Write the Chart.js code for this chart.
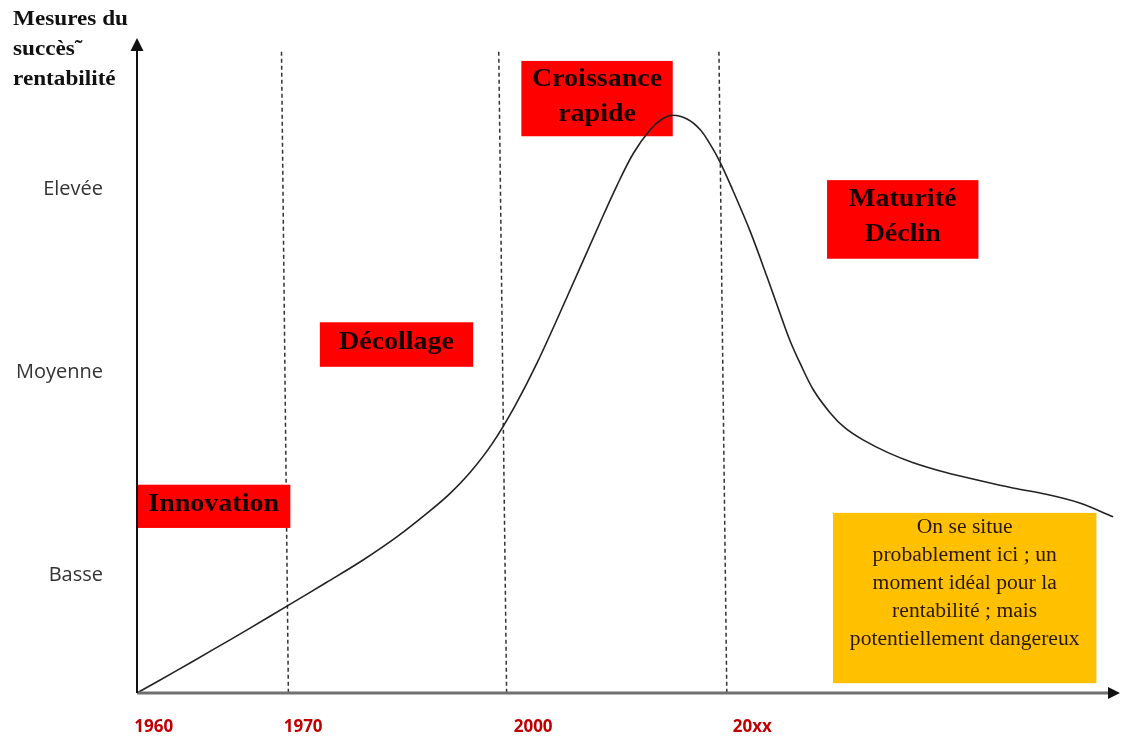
<!DOCTYPE html>
<html>
<head>
<meta charset="utf-8">
<script src="https://cdn.jsdelivr.net/npm/chart.js@4.4.1/dist/chart.umd.min.js"></script>
<style>
  html, body { margin: 0; padding: 0; background: #fff; }
  #wrap { width: 1121px; height: 738px; position: relative; }
</style>
</head>
<body>
<div id="wrap"><canvas id="cycleChart"></canvas></div>
<script>
// Courbe du cycle de vie (unités arbitraires 0-100 sur les deux axes)
const curveX = [0, 3.9, 7.6, 11.5, 15.3, 19.3, 23.0, 26.5, 29.8, 31.8, 33.9, 36.1, 38.4, 40.7, 43.7,
  47.1, 48.8, 50.5, 52.2, 53.4, 54.5, 56.0, 57.3, 58.3, 59.3, 60.6, 62.4, 64.1, 65.4, 66.4, 67.5,
  68.8, 70.5, 72.0, 73.9, 76.4, 78.9, 82.2, 85.8, 89.1, 92.6, 95.9, 99.3];
const curveY = [0, 3.3, 6.5, 9.9, 13.3, 16.9, 20.3, 23.9, 27.8, 30.4, 33.7, 38.0, 43.7, 50.4, 60.3,
  71.8, 77.4, 82.4, 86.0, 87.6, 88.2, 87.6, 86.0, 83.8, 81.1, 76.8, 70.4, 63.5, 58.0, 53.9, 50.2,
  46.3, 42.8, 40.5, 38.6, 36.7, 35.2, 33.7, 32.4, 31.3, 30.3, 29.0, 26.9];

// Séparations des phases (haut / bas)
const phaseTopX = [14.7, 36.8, 59.2];
const phaseBottomX = [15.4, 37.6, 60.0];
const phaseTopY = 97.9;

// Axes
const xTickPos = [1.7, 16.9, 40.3, 62.6];
const xTickLabels = ['1960', '1970', '2000', '20xx'];
const yTickPos = [76.9, 48.9, 18.0];
const yTickLabels = ['Elevée', 'Moyenne', 'Basse'];

const titleLines = ['Mesures du', 'succès˜', 'rentabilité'];

// Étiquettes des phases (coordonnées dans les unités des axes)
const phaseBoxes = [
  { x0: 0, x1: 15.6, y0: 25.2, y1: 31.8, lines: ['Innovation'] },
  { x0: 18.6, x1: 34.2, y0: 49.8, y1: 56.6, lines: ['Décollage'] },
  { x0: 39.1, x1: 54.5, y0: 85.0, y1: 96.5, lines: ['Croissance', 'rapide'] },
  { x0: 70.2, x1: 85.6, y0: 66.3, y1: 78.3, lines: ['Maturité', 'Déclin'] }
];
const noteBox = {
  x0: 70.8, x1: 97.6, y0: 1.5, y1: 27.5,
  lines: ['On se situe', 'probablement ici ; un', 'moment idéal pour la', 'rentabilité ; mais', 'potentiellement dangereux']
};

function stretchText(ctx, text, x, y, sx) {
  ctx.save();
  ctx.translate(x, y);
  ctx.scale(sx, 1);
  ctx.fillText(text, 0, 0);
  ctx.restore();
}

const boxesPlugin = {
  id: 'boxes',
  beforeDatasetDraw(chart, args) {
    if (args.index !== 0) return;
    const ctx = chart.ctx;
    const xs = chart.scales.x, ys = chart.scales.y;
    ctx.save();
    phaseBoxes.forEach(b => {
      const l = xs.getPixelForValue(b.x0), r = xs.getPixelForValue(b.x1);
      const t = ys.getPixelForValue(b.y1), bt = ys.getPixelForValue(b.y0);
      ctx.fillStyle = '#ff0000';
      ctx.fillRect(l, t, r - l, bt - t);
      ctx.fillStyle = '#1a0000';
      ctx.font = 'bold 25px "Liberation Serif"';
      ctx.textAlign = 'center';
      ctx.textBaseline = 'middle';
      const cy = (t + bt) / 2 - 2;
      const step = 35;
      b.lines.forEach((s, i) => {
        stretchText(ctx, s, (l + r) / 2, cy + (i - (b.lines.length - 1) / 2) * step, 1.12);
      });
    });
    // note orange
    const l = xs.getPixelForValue(noteBox.x0), r = xs.getPixelForValue(noteBox.x1);
    const t = ys.getPixelForValue(noteBox.y1), bt = ys.getPixelForValue(noteBox.y0);
    ctx.fillStyle = '#ffc000';
    ctx.fillRect(l, t, r - l, bt - t);
    ctx.fillStyle = '#2b1800';
    ctx.font = '20px "Liberation Serif"';
    ctx.textAlign = 'center';
    ctx.textBaseline = 'middle';
    noteBox.lines.forEach((s, i) => {
      stretchText(ctx, s, (l + r) / 2, t + 15 + i * 28, 1.08);
    });
    ctx.restore();
  },
  afterDraw(chart) {
    const ctx = chart.ctx;
    const a = chart.chartArea;
    ctx.save();
    // axe x
    ctx.strokeStyle = '#707070';
    ctx.lineWidth = 3;
    ctx.beginPath();
    ctx.moveTo(a.left, a.bottom);
    ctx.lineTo(a.right - 10, a.bottom);
    ctx.stroke();
    ctx.fillStyle = '#111';
    ctx.beginPath();
    ctx.moveTo(a.right, a.bottom);
    ctx.lineTo(a.right - 12, a.bottom - 6);
    ctx.lineTo(a.right - 12, a.bottom + 6);
    ctx.closePath();
    ctx.fill();
    // axe y
    ctx.strokeStyle = '#111';
    ctx.lineWidth = 2;
    ctx.beginPath();
    ctx.moveTo(a.left, a.bottom);
    ctx.lineTo(a.left, a.top + 10);
    ctx.stroke();
    ctx.beginPath();
    ctx.moveTo(a.left, a.top);
    ctx.lineTo(a.left - 6.5, a.top + 13);
    ctx.lineTo(a.left + 6.5, a.top + 13);
    ctx.closePath();
    ctx.fill();
    // titre de l'axe y
    ctx.fillStyle = '#111';
    ctx.font = 'bold 20px "Liberation Serif"';
    ctx.textAlign = 'left';
    ctx.textBaseline = 'middle';
    titleLines.forEach((s, i) => stretchText(ctx, s, 13, 20 + i * 30, 1.16));
    ctx.restore();
  }
};

const datasets = [{
  data: curveX.map((x, i) => ({ x: x, y: curveY[i] })),
  borderColor: '#222',
  borderWidth: 1.6,
  pointRadius: 0,
  tension: 0.35,
  order: 1
}];
phaseTopX.forEach((x, i) => {
  datasets.push({
    data: [{ x: x, y: phaseTopY }, { x: phaseBottomX[i], y: 0 }],
    borderColor: '#333',
    borderWidth: 1.5,
    borderDash: [4, 3],
    pointRadius: 0,
    tension: 0,
    order: 2
  });
});

new Chart(document.getElementById('cycleChart'), {
  type: 'line',
  data: { datasets: datasets },
  plugins: [boxesPlugin],
  options: {
    responsive: true,
    maintainAspectRatio: false,
    animation: false,
    layout: { padding: { top: 38, right: 1, left: 0, bottom: 0 } },
    plugins: { legend: { display: false }, tooltip: { enabled: false } },
    scales: {
      x: {
        type: 'linear',
        min: 0, max: 100,
        grid: { display: false },
        border: { display: false },
        afterFit(scale) {
          scale.height = 45;
          scale.paddingLeft = 0;
          scale.paddingRight = 0;
        },
        afterBuildTicks(scale) { scale.ticks = xTickPos.map(v => ({ value: v })); },
        ticks: {
          autoSkip: false,
          maxRotation: 0,
          padding: 16,
          color: '#c00000',
          font: { family: 'Open Sans', size: 17, weight: 'bold' },
          callback: (v, i) => xTickLabels[i]
        }
      },
      y: {
        type: 'linear',
        min: 0, max: 100,
        grid: { display: false },
        border: { display: false },
        afterFit(scale) {
          scale.width = 137;
          scale.paddingTop = 0;
          scale.paddingBottom = 0;
        },
        afterBuildTicks(scale) { scale.ticks = yTickPos.map(v => ({ value: v })); },
        ticks: {
          autoSkip: false,
          padding: 26,
          color: '#333',
          font: { family: 'Open Sans', size: 20 },
          callback: (v, i) => yTickLabels[i]
        }
      }
    }
  }
});
</script>
</body>
</html>
